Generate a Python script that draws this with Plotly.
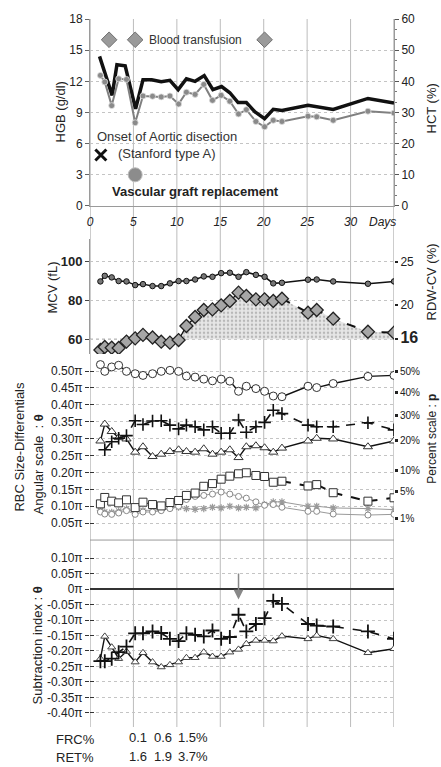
import numpy as np
import plotly.graph_objects as go

# ---------------- data ----------------
days = [1.2, 1.7, 2.5, 3.3, 4.2, 5.2, 6.1, 7.2, 8.2, 9.2, 10.2, 11.1, 12.1, 13.1,
        14.1, 15.1, 16.1, 17.1, 18.0, 19.1, 20.1, 21.1, 22.1, 25.1, 26.1, 28.0, 32.0, 35.0]

hgb_days = [1.1, 2.55, 3.1, 4.05, 5.25, 6.1, 7.1, 8.2, 9.2, 10.15, 11.1, 12.1, 13.15,
            14.15, 15.15, 16.1, 17.05, 18.0, 19.0, 20.1, 21.1, 22.1, 25.1, 28.0, 32.0, 35.0]
hgb = [14.4, 10.65, 13.6, 13.5, 9.35, 12.15, 12.15, 11.95, 12.1, 11.2, 12.25, 12.0, 12.55,
       11.2, 11.5, 10.9, 9.95, 9.95, 9.05, 8.4, 9.3, 9.2, 9.7, 9.3, 10.35, 9.9]
hct = [41.9, 39.8, 32.2, 40.8, 40.6, 26.7, 35.3, 35.2, 35.0, 35.3, 32.7, 36.5, 35.8, 39.0,
       33.9, 35.5, 33.6, 29.5, 30.9, 27.1, 25.4, 27.5, 27.1, 28.8, 28.6, 27.5, 30.4, 29.8]
transfusion_days = [2.2, 5.2, 20.1]
onset_day = 1.25
surgery_day = 5.2

mcv = [89.9, 92.8, 92.0, 90.1, 89.9, 88.0, 88.5, 87.5, 87.5, 88.9, 90.1, 90.1, 90.9, 92.5,
       92.3, 94.2, 94.4, 92.3, 94.7, 93.3, 92.3, 88.9, 89.2, 90.8, 90.9, 89.9, 88.7, 89.9]
rdw = [14.74, 15.09, 15.01, 14.97, 15.72, 16.1, 16.5, 16.2, 15.71, 15.6, 15.9, 17.54, 18.59,
       19.4, 19.47, 19.94, 20.45, 21.42, 21.04, 20.64, 20.64, 20.45, 20.72, 19.09, 19.4,
       18.39, 16.87, 16.76]
rdw_ref = 16

# RBC size differentials, angular scale (units of pi)
theta_circle = [0.519, 0.499, 0.512, 0.517, 0.499, 0.492, 0.487, 0.492, 0.499, 0.502, 0.499,
                0.485, 0.482, 0.476, 0.471, 0.476, 0.470, 0.440, 0.455, 0.448, 0.440, 0.426,
                0.424, 0.455, 0.451, 0.463, 0.484, 0.487]
plus_days = days[1:]
theta_plus = [0.267, 0.291, 0.301, 0.309, 0.353, 0.342, 0.352, 0.353, 0.340, 0.329, 0.340,
              0.335, 0.326, 0.335, 0.316, 0.316, 0.355, 0.319, 0.335, 0.348, 0.384, 0.374,
              0.340, 0.335, 0.335, 0.347, 0.326]
theta_tri = [0.293, 0.343, 0.321, 0.303, 0.299, 0.260, 0.276, 0.247, 0.254, 0.262, 0.267,
             0.262, 0.260, 0.270, 0.254, 0.260, 0.267, 0.244, 0.276, 0.279, 0.273, 0.260,
             0.272, 0.293, 0.301, 0.299, 0.276, 0.293]
theta_square = [0.107, 0.126, 0.115, 0.110, 0.119, 0.096, 0.112, 0.105, 0.101, 0.111, 0.117,
                0.132, 0.139, 0.159, 0.167, 0.180, 0.189, 0.196, 0.199, 0.191, 0.188, 0.171,
                0.174, 0.160, 0.164, 0.140, 0.115, 0.125]
theta_small_circle = [0.083, 0.077, 0.076, 0.080, 0.087, 0.076, 0.083, 0.083, 0.087, 0.093,
                      0.100, 0.120, 0.129, 0.132, 0.136, 0.142, 0.136, 0.129, 0.124, 0.113,
                      0.103, 0.105, 0.097, 0.085, 0.085, 0.077, 0.074, 0.076]
theta_grey = [0.088, 0.083, 0.082, 0.086, 0.092, 0.084, 0.088, 0.088, 0.091, 0.095, 0.097,
              0.093, 0.091, 0.093, 0.097, 0.095, 0.100, 0.095, 0.097, 0.095, 0.105, 0.113,
              0.113, 0.100, 0.100, 0.095, 0.093, 0.090]
percent_ticks = [1, 5, 10, 20, 30, 40, 50]

# Subtraction index (units of pi)
sub_plus = [-0.233, -0.233, -0.225, -0.204, -0.186, -0.143, -0.143, -0.137, -0.142, -0.161,
            -0.168, -0.143, -0.148, -0.153, -0.134, -0.161, -0.155, -0.083, -0.137, -0.113,
            -0.094, -0.038, -0.048, -0.113, -0.118, -0.121, -0.137, -0.161]
sub_tri = [-0.225, -0.153, -0.188, -0.225, -0.202, -0.236, -0.206, -0.236, -0.252, -0.245,
           -0.236, -0.222, -0.222, -0.204, -0.218, -0.218, -0.204, -0.195, -0.177, -0.166,
           -0.166, -0.168, -0.152, -0.161, -0.150, -0.161, -0.206, -0.193]
arrow_day = 17.1

frc_labels = ["0.1", "0.6", "1.5%"]
ret_labels = ["1.6", "1.9", "3.7%"]
lab_days = [4.26, 7.14, 9.9]

split = 22  # index where lines turn dashed (day 22.1)

FONT = "Liberation Sans, Arial, Helvetica, sans-serif"
BLACK = "#111111"
fig = go.Figure()

# ---------------- top panel ----------------
fig.add_trace(go.Scatter(x=hgb_days, y=hgb, xaxis="x2", yaxis="y", mode="lines",
                         line=dict(color=BLACK, width=3.5)))
fig.add_trace(go.Scatter(x=days, y=hct, xaxis="x2", yaxis="y2", mode="lines+markers",
                         line=dict(color="#808080", width=2),
                         marker=dict(symbol="circle", size=6, color="#8a8a8a",
                                     line=dict(color="#dddddd", width=0.8))))
fig.add_trace(go.Scatter(x=transfusion_days, y=[16] * len(transfusion_days), xaxis="x2", yaxis="y",
                         mode="markers",
                         marker=dict(symbol="diamond", size=12, color="#9a9a9a",
                                     line=dict(color="#6f6f6f", width=1))))
fig.add_trace(go.Scatter(x=[onset_day], y=[4.9], xaxis="x2", yaxis="y", mode="markers",
                         marker=dict(symbol="x-thin", size=11, line=dict(color=BLACK, width=3))))
fig.add_trace(go.Scatter(x=[surgery_day], y=[3.0], xaxis="x2", yaxis="y", mode="markers",
                         marker=dict(symbol="circle", size=14, color="#8c8c8c",
                                     line=dict(color="#bbbbbb", width=1))))

# ---------------- MCV / RDW panel ----------------
fig.add_trace(go.Scatter(x=days, y=[rdw_ref] * len(days), xaxis="x", yaxis="y4", mode="lines",
                         line=dict(width=0), hoverinfo="skip"))
fig.add_trace(go.Scatter(x=days, y=[max(v, rdw_ref) for v in rdw], xaxis="x", yaxis="y4",
                         mode="lines", line=dict(width=0), fill="tonexty",
                         fillcolor="rgba(0,0,0,0)",
                         fillpattern=dict(shape=".", fgcolor="#8a8a8a", bgcolor="#e6e6e6",
                                          size=4, solidity=0.3)))
fig.add_trace(go.Scatter(x=days, y=mcv, xaxis="x", yaxis="y3", mode="lines+markers",
                         line=dict(color=BLACK, width=1.5),
                         marker=dict(symbol="circle", size=5.5, color="#777777",
                                     line=dict(color=BLACK, width=1))))
fig.add_trace(go.Scatter(x=days[:split + 1], y=rdw[:split + 1], xaxis="x", yaxis="y4",
                         mode="lines", line=dict(color=BLACK, width=1.3)))
fig.add_trace(go.Scatter(x=days[split:], y=rdw[split:], xaxis="x", yaxis="y4",
                         mode="lines", line=dict(color=BLACK, width=2, dash="dash")))
fig.add_trace(go.Scatter(x=days, y=rdw, xaxis="x", yaxis="y4", mode="markers",
                         marker=dict(symbol="diamond", size=10, color="#a6a6a6",
                                     line=dict(color="#222222", width=1.3))))

# ---------------- RBC size differentials ----------------
fig.add_trace(go.Scatter(x=days, y=theta_grey, xaxis="x", yaxis="y5", mode="lines+markers",
                         line=dict(color="#9a9a9a", width=1),
                         marker=dict(symbol="asterisk-open", size=6,
                                     line=dict(color="#8a8a8a", width=1.2))))
fig.add_trace(go.Scatter(x=days, y=theta_small_circle, xaxis="x", yaxis="y5", mode="lines+markers",
                         line=dict(color="#9a9a9a", width=1),
                         marker=dict(symbol="circle", size=6, color="white",
                                     line=dict(color="#888888", width=1))))
fig.add_trace(go.Scatter(x=days[:split + 1], y=theta_square[:split + 1], xaxis="x", yaxis="y5",
                         mode="lines", line=dict(color=BLACK, width=1)))
fig.add_trace(go.Scatter(x=days[split:], y=theta_square[split:], xaxis="x", yaxis="y5",
                         mode="lines", line=dict(color=BLACK, width=2, dash="dash")))
fig.add_trace(go.Scatter(x=days, y=theta_square, xaxis="x", yaxis="y5", mode="markers",
                         marker=dict(symbol="square", size=8, color="white",
                                     line=dict(color="#333333", width=1))))
fig.add_trace(go.Scatter(x=days, y=theta_tri, xaxis="x", yaxis="y5", mode="lines+markers",
                         line=dict(color=BLACK, width=1.4),
                         marker=dict(symbol="triangle-up", size=8, color="white",
                                     line=dict(color="#333333", width=1))))
fig.add_trace(go.Scatter(x=plus_days, y=theta_plus, xaxis="x", yaxis="y5", mode="lines+markers",
                         line=dict(color=BLACK, width=1.6, dash="dash"),
                         marker=dict(symbol="cross-thin", size=9,
                                     line=dict(color=BLACK, width=1.6))))
fig.add_trace(go.Scatter(x=days, y=theta_circle, xaxis="x", yaxis="y5", mode="lines+markers",
                         line=dict(color=BLACK, width=1.4),
                         marker=dict(symbol="circle", size=8, color="white",
                                     line=dict(color="#333333", width=1))))

# ---------------- subtraction index ----------------
fig.add_trace(go.Scatter(x=days, y=sub_tri, xaxis="x", yaxis="y7", mode="lines+markers",
                         line=dict(color=BLACK, width=1.4),
                         marker=dict(symbol="triangle-up", size=7, color="white",
                                     line=dict(color="#444444", width=1))))
fig.add_trace(go.Scatter(x=days, y=sub_plus, xaxis="x", yaxis="y7", mode="lines+markers",
                         line=dict(color=BLACK, width=1.6, dash="dash"),
                         marker=dict(symbol="cross-thin", size=10,
                                     line=dict(color=BLACK, width=1.8))))

# empty traces so the overlay axes (percent scale, inner tick marks) get drawn
for ax in ["y6", "y8", "y9"]:
    fig.add_trace(go.Scatter(x=[], y=[], xaxis="x", yaxis=ax, mode="markers",
                             hoverinfo="skip"))

# ---------------- layout ----------------
def py2paper(py):
    return (727 - py) / 712.0

def px2paper(px):
    return (px - 90) / 304.0

tick_font = dict(family=FONT, size=12, color="#222222")
grid = dict(showgrid=True, gridcolor="#c4c4c4", griddash="dot", gridwidth=1, zeroline=False)

rbc_vals = [round(0.05 * k, 2) for k in range(1, 11)]
rbc_text = ["%.2fπ" % v for v in rbc_vals]
sub_vals = [round(0.05 * k, 2) for k in range(-8, 3)]
sub_text = [("0π" if v == 0 else "%.2fπ" % v) for v in sub_vals]
pct_vals = [2 * np.arcsin(np.sqrt(p / 100.0)) / np.pi for p in percent_ticks]
pct_text = ["%d%%" % p for p in percent_ticks]

rbc_range = [0, 0.55]
sub_range = [-0.446, 0.1521]
mcv_range = [52.28, 111.99]
rdw_range = [14.263, 27.698]

fig.update_layout(
    width=441, height=767,
    margin=dict(l=90, r=47, t=15, b=40),
    paper_bgcolor="white", plot_bgcolor="rgba(0,0,0,0)",
    showlegend=False,
    font=dict(family=FONT, size=12, color="#222222"),
    xaxis=dict(domain=[0, 1], range=[0, 35], anchor="y7", showticklabels=False,
               showgrid=False, zeroline=False, showline=False, ticks=""),
    xaxis2=dict(domain=[0, 1], range=[0, 35], anchor="y", matches="x",
                tickvals=[0, 5, 10, 15, 20, 25, 30],
                ticktext=["<i>%d</i>" % v for v in [0, 5, 10, 15, 20, 25, 30]],
                tickfont=dict(family=FONT, size=12, color="#222222"),
                showgrid=False, zeroline=False, showline=True, linecolor="#9a9a9a",
                ticks="outside", ticklen=5, tickcolor="rgba(0,0,0,0)"),
    yaxis=dict(domain=[py2paper(203), 1.0], range=[0, 18], anchor="x2",
               tickvals=[0, 3, 6, 9, 12, 15, 18], tickfont=tick_font,
               showline=True, linecolor="#9a9a9a", ticks="outside", ticklen=4,
               tickcolor="#666666", **grid),
    yaxis2=dict(range=[0, 60], overlaying="y", side="right", anchor="x2",
                tickvals=[0, 10, 20, 30, 40, 50, 60], tickfont=tick_font,
                showline=True, linecolor="#9a9a9a", ticks="outside", ticklen=4,
                tickcolor="#555555", showgrid=False, zeroline=False,
                minor=dict(dtick=10 / 3.0, tick0=0, ticks="outside", ticklen=2,
                           tickcolor="#777777")),
    yaxis3=dict(domain=[py2paper(352), py2paper(236)], range=mcv_range, anchor="x",
                tickvals=[60, 80, 100], ticktext=["<b>60</b>", "<b>80</b>", "<b>100</b>"],
                tickfont=dict(family=FONT, size=13, color="#222222"),
                showline=True, linecolor="#9a9a9a", ticks="outside", ticklen=4,
                tickcolor="#444444", **grid),
    yaxis4=dict(range=rdw_range, overlaying="y3", side="right", anchor="x",
                tickvals=[16, 20, 25],
                ticktext=["<b><span style='font-size:16px'>16</span></b>", "20", "25"],
                tickfont=tick_font, showline=False, ticks="outside", ticklen=3,
                tickwidth=2, tickcolor="#222222", showgrid=False, zeroline=False),
    yaxis5=dict(domain=[py2paper(539), py2paper(352)], range=rbc_range, anchor="x",
                tickvals=rbc_vals, ticktext=rbc_text, tickfont=tick_font,
                showline=False, ticks="outside", ticklen=4, tickcolor="#333333", **grid),
    yaxis6=dict(range=rbc_range, overlaying="y5", side="right", anchor="x",
                tickvals=pct_vals, ticktext=pct_text,
                tickfont=dict(family=FONT, size=10, color="#222222"),
                showline=False, ticks="outside", ticklen=3, tickwidth=3,
                tickcolor="#222222", showgrid=False, zeroline=False),
    yaxis8=dict(range=rbc_range, overlaying="y5", side="left", anchor="x",
                tickvals=rbc_vals, showticklabels=False, ticks="inside", ticklen=4,
                tickcolor="#333333", showgrid=False, zeroline=False, showline=False),
    yaxis7=dict(domain=[0, py2paper(541)], range=sub_range, anchor="x",
                tickvals=sub_vals, ticktext=sub_text, tickfont=tick_font,
                showline=False, ticks="outside", ticklen=4, tickcolor="#333333",
                showgrid=True, gridcolor="#c4c4c4", griddash="dot",
                zeroline=True, zerolinecolor="#333333", zerolinewidth=1.5),
    yaxis9=dict(range=sub_range, overlaying="y7", side="left", anchor="x",
                tickvals=sub_vals, showticklabels=False, ticks="inside", ticklen=4,
                tickcolor="#333333", showgrid=False, zeroline=False, showline=False),
)

# continuous vertical grid lines through all panels
shapes = []
for d in [0, 5, 10, 15, 20, 25, 30, 35]:
    shapes.append(dict(type="line", xref="x", yref="paper", x0=d, x1=d, y0=0, y1=1,
                       line=dict(color="#bcbcbc" if d not in (0, 35) else "#9a9a9a", width=1),
                       layer="below"))
shapes.append(dict(type="line", xref="x", yref="paper", x0=0, x1=35,
                   y0=py2paper(539), y1=py2paper(539),
                   line=dict(color="#9a9a9a", width=1), layer="below"))
shapes.append(dict(type="line", xref="x", yref="y4", x0=0, x1=35, y0=rdw_ref, y1=rdw_ref,
                   line=dict(color="#8a8a8a", width=1, dash="dot"), layer="below"))
fig.update_layout(shapes=shapes)

ann = []
# top panel texts
ann.append(dict(x=6.6, y=16.0, xref="x2", yref="y", text="Blood transfusion", showarrow=False,
                xanchor="left", yanchor="middle", font=dict(size=12, color="#333333")))
ann.append(dict(x=0.55, y=6.67, xref="x2", yref="y", text="Onset of Aortic disection",
                showarrow=False, xanchor="left", yanchor="middle", font=dict(size=13, color="#333333")))
ann.append(dict(x=3.0, y=5.07, xref="x2", yref="y", text="(Stanford type A)",
                showarrow=False, xanchor="left", yanchor="middle", font=dict(size=13, color="#333333")))
ann.append(dict(x=2.3, y=1.4, xref="x2", yref="y", text="<b>Vascular graft replacement</b>",
                showarrow=False, xanchor="left", yanchor="middle", font=dict(size=13, color="#222222")))
ann.append(dict(x=35, y=py2paper(219), xref="x", yref="paper", text="<i>Days</i>",
                showarrow=False, xanchor="right", xshift=4, yanchor="middle",
                font=dict(size=12, color="#222222")))

# axis titles
def vtitle(px, py, text, size=13):
    return dict(x=px2paper(px), y=py2paper(py), xref="paper", yref="paper", text=text,
                showarrow=False, textangle=-90, xanchor="center", yanchor="middle",
                font=dict(size=size, color="#222222"))

ann.append(vtitle(60, 109, "HGB (g/dl)"))
ann.append(vtitle(431, 105, "HCT (%)"))
ann.append(vtitle(52, 285, "MCV (fL)"))
ann.append(vtitle(432, 280, "RDW-CV (%)"))
ann.append(vtitle(20, 445, "RBC Size-Differentials"))
ann.append(vtitle(38, 463, "Angular scale  : <b>θ</b>"))
ann.append(vtitle(432, 437, "Percent scale : <b>p</b>", size=12))
ann.append(vtitle(37, 645, "Subtraction index : <b>θ</b>"))

# arrow in subtraction panel
ann.append(dict(x=arrow_day, y=-0.034, xref="x", yref="y7", ax=arrow_day, ay=0.055,
                axref="x", ayref="y7", text="", showarrow=True, arrowhead=2, arrowsize=1.3,
                arrowwidth=1.5, arrowcolor="#888888"))

# FRC / RET rows
ann.append(dict(x=px2paper(54), y=py2paper(740), xref="paper", yref="paper", text="FRC%",
                showarrow=False, xanchor="left", yanchor="middle", font=dict(size=13)))
ann.append(dict(x=px2paper(54), y=py2paper(758), xref="paper", yref="paper", text="RET%",
                showarrow=False, xanchor="left", yanchor="middle", font=dict(size=13)))
for d, f, r in zip(lab_days, frc_labels, ret_labels):
    ann.append(dict(x=d, y=py2paper(738), xref="x", yref="paper", text=f, showarrow=False,
                    xanchor="left", yanchor="middle", font=dict(size=13)))
    ann.append(dict(x=d, y=py2paper(757), xref="x", yref="paper", text=r, showarrow=False,
                    xanchor="left", yanchor="middle", font=dict(size=13)))

fig.update_layout(annotations=ann)
fig.write_html("out.html")
